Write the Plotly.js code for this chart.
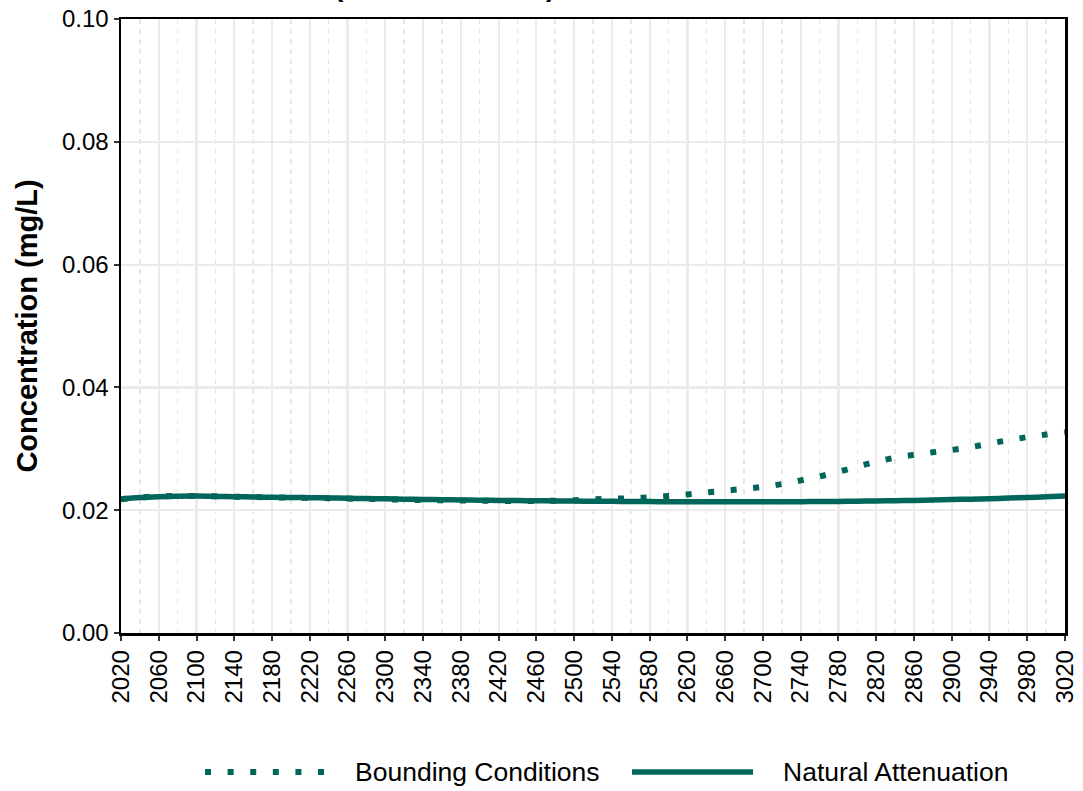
<!DOCTYPE html>
<html>
<head>
<meta charset="utf-8">
<script src="https://cdn.plot.ly/plotly-3.0.1.min.js"></script>
<style>html,body{margin:0;padding:0;background:#fff;}#chart{width:1083px;height:791px;}</style>
</head>
<body>
<div id="chart"></div>
<script>
var years = [2020,2040,2060,2080,2100,2120,2140,2160,2180,2200,2220,2240,2260,2280,2300,2320,2340,2360,2380,2400,2420,2440,2460,2480,2500,2520,2540,2560,2580,2600,2620,2640,2660,2680,2700,2720,2740,2760,2780,2800,2820,2840,2860,2880,2900,2920,2940,2960,2980,3000,3020];

var naturalAttenuation = [0.0218,0.02205,0.0222,0.02228,0.0223,0.02225,0.0222,0.02215,0.0221,0.02207,0.02203,0.022,0.02195,0.0219,0.02185,0.0218,0.02176,0.02172,0.02168,0.02164,0.0216,0.02157,0.02154,0.02151,0.02148,0.02146,0.02144,0.02142,0.0214,0.02139,0.02138,0.02137,0.02137,0.02137,0.02137,0.02138,0.02139,0.02141,0.02143,0.02146,0.0215,0.02155,0.0216,0.02166,0.02173,0.0218,0.02188,0.02197,0.02207,0.02218,0.02232];

var boundingConditions = [0.0218,0.02208,0.02225,0.02232,0.02232,0.02226,0.0222,0.02214,0.02209,0.02205,0.022,0.02196,0.0219,0.02184,0.02177,0.02171,0.02166,0.02162,0.02158,0.02154,0.02151,0.02149,0.02149,0.02155,0.02162,0.02178,0.02186,0.02195,0.0221,0.0223,0.02257,0.02288,0.02318,0.02347,0.02381,0.02425,0.02486,0.0255,0.02625,0.0271,0.0279,0.02855,0.02902,0.02943,0.0298,0.03026,0.03085,0.0314,0.0319,0.03232,0.0327];

var seriesNames = ["Bounding Conditions", "Natural Attenuation"];
var yTitle = "Concentration (mg/L)";

var lineColor = "#00665a";
var fontFamily = "'Liberation Sans', Arial, sans-serif";

var traces = [
  {x: years, y: boundingConditions, type: "scatter", mode: "lines", name: seriesNames[0],
   line: {color: lineColor, width: 6, dash: "6px,16.6px", shape: "spline"}, showlegend: false},
  {x: years, y: naturalAttenuation, type: "scatter", mode: "lines", name: seriesNames[1],
   line: {color: lineColor, width: 5.5, shape: "spline"}, showlegend: false}
];

var legY = -0.2264;
var layout = {
  width: 1083, height: 791,
  margin: {l: 121, r: 18, t: 19, b: 158},
  paper_bgcolor: "#ffffff", plot_bgcolor: "#ffffff",
  font: {family: fontFamily, size: 24, color: "#000000"},
  showlegend: false,
  xaxis: {
    range: [2020, 3020], tick0: 2020, dtick: 40, tickangle: -90,
    showgrid: true, gridcolor: "#ebebeb", gridwidth: 2.2,
    minor: {tick0: 2020, dtick: 20, showgrid: true, gridcolor: "#e6e6e6", gridwidth: 1.5, griddash: "5px,5px"},
    showline: true, linecolor: "#000000", linewidth: 2.5, mirror: true,
    ticks: "outside", ticklen: 5, tickwidth: 2, tickcolor: "#333333",
    tickfont: {family: fontFamily, size: 24, color: "#000000"},
    zeroline: false, fixedrange: true
  },
  yaxis: {
    range: [0, 0.1], tick0: 0, dtick: 0.02, tickformat: ".2f",
    showgrid: true, gridcolor: "#ebebeb", gridwidth: 2.2,
    showline: true, linecolor: "#000000", linewidth: 2.5, mirror: true,
    ticks: "outside", ticklen: 5, tickwidth: 2, tickcolor: "#333333",
    tickfont: {family: fontFamily, size: 24, color: "#000000"},
    title: {text: "<b>" + yTitle + "</b>", font: {family: fontFamily, size: 29, color: "#000000"}, standoff: 16},
    zeroline: false, fixedrange: true
  },
  shapes: [
    {type: "line", xref: "paper", yref: "paper", x0: 0.0890, x1: 0.2161, y0: legY, y1: legY,
     line: {color: lineColor, width: 6, dash: "6px,16.6px"}},
    {type: "line", xref: "paper", yref: "paper", x0: 0.5413, x1: 0.6695, y0: legY, y1: legY,
     line: {color: lineColor, width: 5.5}}
  ],
  annotations: [
    {xref: "paper", yref: "paper", x: 0.246, y: legY, xanchor: "left", yanchor: "middle",
     text: seriesNames[0], showarrow: false, font: {family: fontFamily, size: 26.5, color: "#000000"}},
    {xref: "paper", yref: "paper", x: 0.699, y: legY, xanchor: "left", yanchor: "middle",
     text: seriesNames[1], showarrow: false, font: {family: fontFamily, size: 26.5, color: "#000000"}},
    {xref: "paper", yref: "paper", x: 0.231, y: 1.025, xanchor: "center", yanchor: "bottom",
     text: "<b>(</b>", showarrow: false, font: {family: fontFamily, size: 28, color: "#000000"}},
    {xref: "paper", yref: "paper", x: 0.4555, y: 1.025, xanchor: "center", yanchor: "bottom",
     text: "<b>)</b>", showarrow: false, font: {family: fontFamily, size: 28, color: "#000000"}}
  ]
};

Plotly.newPlot("chart", traces, layout, {displayModeBar: false, staticPlot: true});
</script>
</body>
</html>
